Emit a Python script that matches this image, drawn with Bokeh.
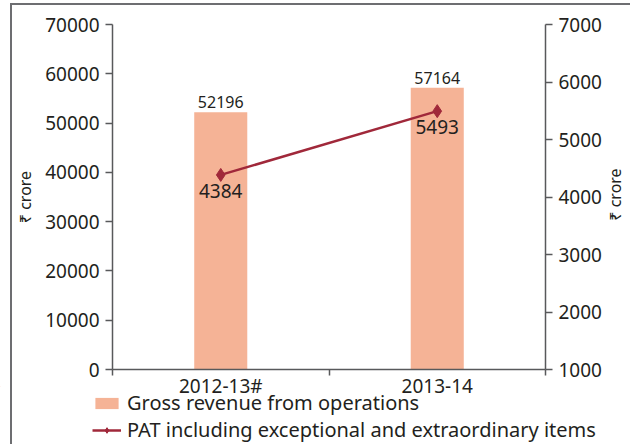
import math
from bokeh.plotting import figure
from bokeh.layouts import column, row
from bokeh.models import (Range1d, LinearAxis, FixedTicker, ColumnDataSource, Legend,
                          LegendItem, LabelSet, Label)
from bokeh.core.properties import value
from bokeh.embed import file_html
from bokeh.resources import INLINE

# ---- data ----
years = ["2012-13#", "2013-14"]
gross_revenue = [52196, 57164]
pat = [4384, 5493]
left_ticks = [0, 10000, 20000, 30000, 40000, 50000, 60000, 70000]
right_ticks = [1000, 2000, 3000, 4000, 5000, 6000, 7000]
y_label = "₹ crore"
bar_series_name = "Gross revenue from operations"
line_series_name = "PAT including exceptional and extraordinary items"

# ---- styles ----
FONT = "Noto Sans"
TEXT = "#231f20"
AXIS = "#58595b"
BAR = "#f5b396"
LINE = "#a0283a"

MAIN_W, MAIN_H = 604, 402
SIDE_W = 630 - MAIN_W
LEG_TOP = 386
LEG_H = 444 - LEG_TOP
FRAME_TOP, FRAME_BOTTOM = 24, 369

x_pos = [i + 0.5 for i in range(len(years))]
bounds = list(range(len(years) + 1))

src = ColumnDataSource(dict(
    x=x_pos, rev=gross_revenue, pat=pat,
    rev_lbl=[str(v) for v in gross_revenue],
    pat_lbl=[str(v) for v in pat],
))

p = figure(width=MAIN_W, height=MAIN_H,
           x_range=Range1d(bounds[0], bounds[-1]),
           y_range=Range1d(left_ticks[0], left_ticks[-1]),
           output_backend="svg", toolbar_location=None,
           min_border_left=112, min_border_right=MAIN_W - 547,
           min_border_top=FRAME_TOP, min_border_bottom=MAIN_H - FRAME_BOTTOM)
p.extra_y_ranges = {"pat": Range1d(right_ticks[0], right_ticks[-1])}
p.outline_line_color = None
p.xgrid.visible = False
p.ygrid.visible = False
p.background_fill_color = "white"
p.border_fill_alpha = 0

right = LinearAxis(y_range_name="pat", ticker=FixedTicker(ticks=right_ticks))
p.add_layout(right, "right")

left = p.yaxis[0]
left.ticker = FixedTicker(ticks=left_ticks)
left.axis_label = y_label

for ax in [left, right]:
    ax.axis_line_color = AXIS
    ax.axis_line_width = 1.5
    ax.major_tick_line_color = AXIS
    ax.major_tick_line_width = 1.5
    ax.major_tick_out = 7
    ax.major_tick_in = 0
    ax.minor_tick_out = 0
    ax.minor_tick_in = 0
    ax.major_label_text_font = FONT
    ax.major_label_text_font_size = "19px"
    ax.major_label_text_color = TEXT
    ax.major_label_standoff = 6
    ax.axis_label_text_font = FONT
    ax.axis_label_text_font_size = "16px"
    ax.axis_label_text_font_style = "normal"
    ax.axis_label_text_color = TEXT
    ax.axis_label_standoff = 6

xa = p.xaxis[0]
xa.ticker = FixedTicker(ticks=x_pos, minor_ticks=bounds)
xa.major_label_overrides = {x: y for x, y in zip(x_pos, years)}
xa.axis_line_color = AXIS
xa.axis_line_width = 1.5
xa.major_tick_out = 0
xa.major_tick_in = 0
xa.minor_tick_out = 6
xa.minor_tick_in = 0
xa.minor_tick_line_color = AXIS
xa.minor_tick_line_width = 1.5
xa.major_label_text_font = FONT
xa.major_label_text_font_size = "19px"
xa.major_label_text_color = TEXT
xa.major_label_standoff = -3

bars = p.vbar(x="x", top="rev", width=0.245, source=src, fill_color=BAR, line_color=None)
ln = p.line("x", "pat", source=src, y_range_name="pat", line_color=LINE, line_width=2.5)
mk = p.scatter("x", "pat", source=src, y_range_name="pat", marker="diamond", size=13,
               fill_color=LINE, line_color=LINE)

p.add_layout(LabelSet(x="x", y="rev", text="rev_lbl", source=src, text_align="center",
                      text_baseline="bottom", y_offset=4, text_font=value(FONT),
                      text_font_size=value("16px"), text_color=TEXT))
p.add_layout(LabelSet(x="x", y="pat", text="pat_lbl", source=src, y_range_name="pat",
                      text_align="center", text_baseline="top", y_offset=-9,
                      text_font=value(FONT), text_font_size=value("19px"), text_color=TEXT))

# ---- right-hand axis title (reads bottom to top, like the left one) ----
side = figure(width=SIDE_W, height=MAIN_H, x_range=Range1d(0, 1), y_range=Range1d(0, 1),
              output_backend="svg", toolbar_location=None, min_border=0,
              x_axis_location=None, y_axis_location=None)
side.outline_line_color = None
side.grid.visible = False
side.background_fill_alpha = 0
side.border_fill_alpha = 0
side.add_layout(Label(x=614 - MAIN_W, y=MAIN_H - 227, x_units="screen",
                      y_units="screen", text=y_label, angle=math.pi / 2,
                      text_align="center", text_baseline="middle",
                      text_font=FONT, text_font_size="16px", text_color=TEXT))

# ---- legend strip under the chart ----
leg = figure(width=630, height=LEG_H, x_range=Range1d(100, 101), y_range=Range1d(-10, -9),
             output_backend="svg", toolbar_location=None, min_border=0,
             x_axis_location=None, y_axis_location=None)
leg.outline_line_color = None
leg.grid.visible = False
leg.background_fill_alpha = 0
leg.border_fill_alpha = 0
leg.styles = {"margin-top": f"{LEG_TOP - MAIN_H}px"}
lbars = leg.vbar(x="x", top="rev", width=0.245, source=src, fill_color=BAR, line_color=None)
lln = leg.line("x", "pat", source=src, line_color=LINE, line_width=2.5)
lmk = leg.scatter("x", "pat", source=src, marker="diamond", size=13,
                  fill_color=LINE, line_color=LINE)
legend = Legend(items=[LegendItem(label=bar_series_name, renderers=[lbars]),
                       LegendItem(label=line_series_name, renderers=[lln, lmk])],
                location=(92, 1), orientation="vertical",
                glyph_width=29, glyph_height=14, label_standoff=6, spacing=-8,
                padding=0, margin=0, border_line_color=None,
                background_fill_alpha=0,
                label_text_font=FONT, label_text_font_size="20px",
                label_text_color=TEXT)
leg.add_layout(legend, "center")

layout = column(row(p, side), leg)
layout.styles = {
    "background-color": "white",
    "background-image": "linear-gradient(#6d6e71, #6d6e71), linear-gradient(#6d6e71, #6d6e71)",
    "background-size": "2px 460px, 640px 2px",
    "background-position": "10px 3px, 10px 3px",
    "background-repeat": "no-repeat",
}

open("out.html", "w").write(file_html(layout, INLINE))
